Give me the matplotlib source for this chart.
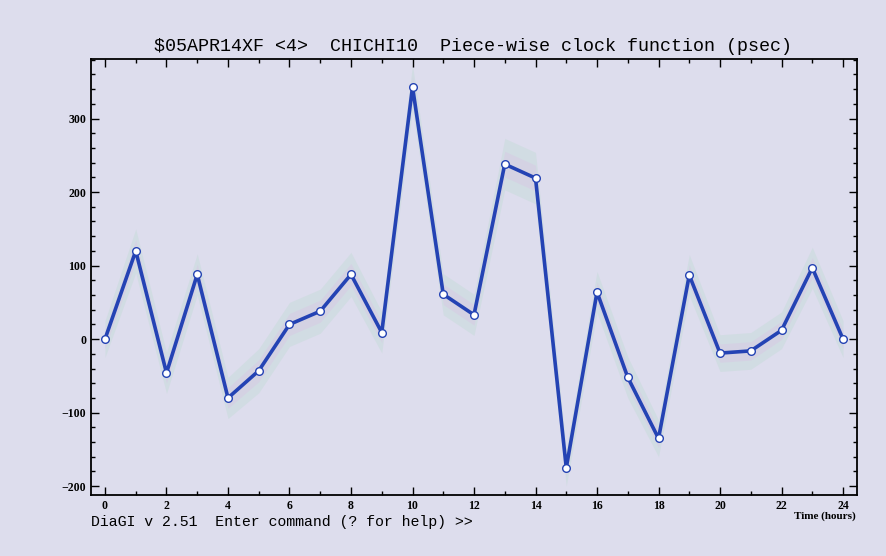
import matplotlib.pyplot as plt
import numpy as np

# clock function values (psec) at each hour
hours = list(range(25))
clock = [0, 120, -46, 88, -80, -43, 20, 38, 88, 9, 343, 61, 33,
         238, 219, -175, 64, -52, -135, 87, -19, -16, 12, 97, 0]
sigma = [25, 30, 28, 28, 28, 30, 30, 30, 30, 28, 30, 28, 28,
         35, 35, 25, 28, 28, 25, 28, 25, 25, 25, 28, 25]

bg = '#dddded'
fig = plt.figure(figsize=(8.86, 5.56), dpi=100, facecolor=bg)
ax = fig.add_axes([0.1027, 0.1097, 0.8646, 0.7842], facecolor=bg)

x = np.array(hours)
y = np.array(clock)
s = np.array(sigma)
ax.fill_between(x, y - s, y + s, color='#c0dcd4', alpha=0.4, lw=0)
ax.fill_between(x, y - s / 2, y + s / 2, color='#dcbce4', alpha=0.3, lw=0)
ax.plot(x, y, color='#2443b4', lw=2.6, zorder=3)
ax.plot(x, y, 'o', ms=5.5, mfc='white', mec='#2443b4', mew=1.0, zorder=4)

ax.set_xlim(-0.455, 24.455)
ax.set_ylim(-212, 381)
ax.set_xticks(range(0, 25, 2))
ax.set_xticks(range(0, 25), minor=True)
ax.set_yticks([-200, -100, 0, 100, 200, 300])
ax.set_yticks(range(-200, 381, 20), minor=True)
ax.tick_params(which='both', direction='in', top=True, right=True,
               labelsize=8.5, width=1, colors='black')
ax.tick_params(which='major', length=6)
ax.tick_params(which='minor', length=3)
for lab in ax.get_xticklabels() + ax.get_yticklabels():
    lab.set_family('Liberation Serif')
    lab.set_fontweight('bold')
for sp in ax.spines.values():
    sp.set_linewidth(1.3)

fig.text(0.534, 0.917, '$05APR14XF <4>  CHICHI10  Piece-wise clock function (psec)',
         ha='center', va='center', fontsize=13.2, family='Liberation Mono')
fig.text(0.103, 0.061, 'DiaGI v 2.51  Enter command (? for help) >>',
         ha='left', va='center', fontsize=10.7, family='Liberation Mono')
fig.text(0.966, 0.072, 'Time (hours)', ha='right', va='center',
         fontsize=8, family='Liberation Serif', fontweight='bold')

fig.savefig('out.png', dpi=100, facecolor=bg)
